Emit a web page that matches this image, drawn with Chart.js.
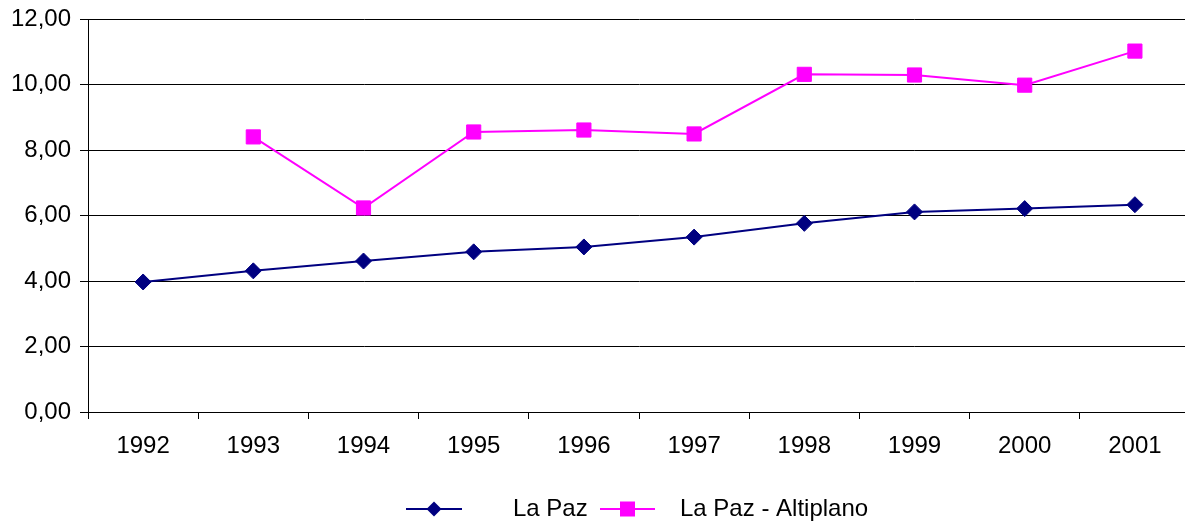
<!DOCTYPE html>
<html>
<head>
<meta charset="utf-8">
<script src="https://cdn.jsdelivr.net/npm/chart.js@4/dist/chart.umd.min.js"></script>
<style>
html,body{margin:0;padding:0;background:#fff;overflow:hidden;}
canvas{display:block;}
</style>
</head>
<body>
<canvas id="c" width="1201" height="524"></canvas>
<script>
const years = ['1992','1993','1994','1995','1996','1997','1998','1999','2000','2001'];
const laPaz = [3.97, 4.31, 4.61, 4.89, 5.04, 5.34, 5.76, 6.11, 6.21, 6.33];
const laPazAltiplano = [null, 8.40, 6.23, 8.55, 8.61, 8.49, 10.31, 10.29, 9.98, 11.02];
const seriesNames = ['La Paz', 'La Paz - Altiplano'];
const yTicks = [0, 2, 4, 6, 8, 10, 12];

const FONT = '"Liberation Sans", Arial, sans-serif';

const legendPlugin = {
  id: 'excelLegend',
  afterDraw(chart) {
    const ctx = chart.ctx;
    const y = 509;
    ctx.save();
    ctx.strokeStyle = '#000080'; ctx.lineWidth = 2;
    ctx.beginPath(); ctx.moveTo(406, y); ctx.lineTo(462, y); ctx.stroke();
    ctx.fillStyle = '#000080';
    ctx.beginPath(); ctx.moveTo(434 - 7.5, y); ctx.lineTo(434, y - 7.5); ctx.lineTo(434 + 7.5, y); ctx.lineTo(434, y + 7.5); ctx.closePath(); ctx.fill();
    ctx.strokeStyle = '#FF00FF';
    ctx.beginPath(); ctx.moveTo(600, y); ctx.lineTo(655, y); ctx.stroke();
    ctx.fillStyle = '#FF00FF';
    ctx.fillRect(627.5 - 7.5, y - 7.5, 15, 15);
    ctx.fillStyle = '#000';
    ctx.font = '24px ' + FONT;
    ctx.textBaseline = 'middle';
    ctx.textAlign = 'left';
    ctx.fillText(seriesNames[0], 513, y);
    ctx.fillText(seriesNames[1], 680, y);
    ctx.restore();
  }
};

new Chart(document.getElementById('c'), {
  type: 'line',
  data: {
    labels: years,
    datasets: [
      {
        label: seriesNames[0],
        data: laPaz,
        borderColor: '#000080',
        backgroundColor: '#000080',
        borderWidth: 2,
        pointStyle: 'rectRot',
        pointRadius: 8,
        pointBorderWidth: 1,
        pointBorderColor: '#000080',
        pointBackgroundColor: '#000080',
        tension: 0
      },
      {
        label: seriesNames[1],
        data: laPazAltiplano,
        borderColor: '#FF00FF',
        backgroundColor: '#FF00FF',
        borderWidth: 2,
        pointStyle: 'rect',
        pointRadius: 10,
        pointBorderWidth: 1,
        pointBorderColor: '#FF00FF',
        pointBackgroundColor: '#FF00FF',
        spanGaps: false,
        tension: 0
      }
    ]
  },
  options: {
    responsive: false,
    devicePixelRatio: 1,
    animation: false,
    layout: { padding: { top: 19, right: 1, left: 0, bottom: 0 } },
    plugins: {
      legend: { display: false },
      tooltip: { enabled: false }
    },
    scales: {
      x: {
        type: 'category',
        offset: true,
        grid: {
          display: true,
          offset: true,
          drawOnChartArea: false,
          drawTicks: true,
          tickLength: 7,
          color: '#000',
          lineWidth: 1
        },
        border: { display: true, color: '#000', width: 1 },
        ticks: {
          color: '#000',
          font: { family: FONT, size: 24 },
          padding: 13,
          maxRotation: 0,
          autoSkip: false
        },
        afterFit(scale) { scale.height = 112; }
      },
      y: {
        min: 0,
        max: 12,
        afterBuildTicks(scale) { scale.ticks = yTicks.map(v => ({ value: v })); },
        grid: {
          color: '#000',
          lineWidth: 1,
          drawTicks: true,
          tickLength: 8
        },
        border: { display: true, color: '#000', width: 1 },
        ticks: {
          color: '#000',
          font: { family: FONT, size: 24 },
          padding: 9,
          callback: v => Number(v).toFixed(2).replace('.', ',')
        },
        afterFit(scale) { scale.width = 88; scale.paddingTop = 0; scale.paddingBottom = 0; }
      }
    }
  },
  plugins: [legendPlugin]
});
</script>
</body>
</html>
